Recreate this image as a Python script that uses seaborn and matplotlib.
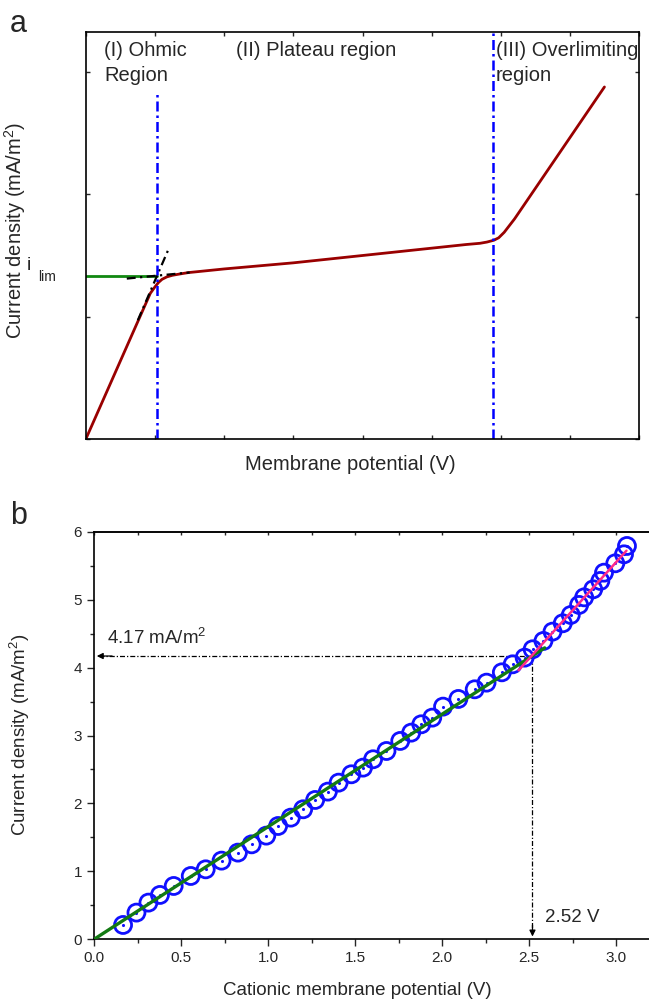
import numpy as np
import pandas as pd
import matplotlib
matplotlib.use('Agg')
import matplotlib.pyplot as plt
import seaborn as sns
from matplotlib.ticker import MultipleLocator, FormatStrFormatter

# ---- panel a : schematic I-V curve (arbitrary units) ----
pot_a = [0.0, 0.5, 0.93, 1.0, 1.05, 1.1, 1.17, 1.25, 1.35, 1.48, 2.0, 3.0, 4.0,
         5.0, 5.5, 5.7, 5.8, 5.9, 5.97, 6.05, 6.2, 7.5]
cur_a = [0.0, 0.64, 1.19, 1.245, 1.28, 1.305, 1.325, 1.338, 1.348, 1.36, 1.39, 1.44, 1.5,
         1.56, 1.59, 1.6, 1.61, 1.625, 1.645, 1.69, 1.8, 2.88]
i_lim = 1.331
v_ohmic = 1.03
v_over = 5.89
tan_ohm_x = [0.75, 1.2]
tan_ohm_y = [0.97, 1.56]
tan_plat_x = [0.59, 1.5]
tan_plat_y = [1.311, 1.361]

# ---- panel b : measured cationic membrane curve ----
pot_b = [0.167, 0.244, 0.313, 0.379, 0.458, 0.556, 0.642, 0.733, 0.827, 0.906, 0.990,
         1.058, 1.131, 1.202, 1.271, 1.344, 1.406, 1.479, 1.546, 1.604, 1.681, 1.760,
         1.823, 1.881, 1.944, 2.006, 2.094, 2.188, 2.256, 2.344, 2.406, 2.475, 2.521,
         2.583, 2.635, 2.694, 2.740, 2.788, 2.817, 2.869, 2.910, 2.931, 2.996, 3.046, 3.063]
cur_b = [0.211, 0.393, 0.540, 0.653, 0.785, 0.932, 1.030, 1.158, 1.276, 1.398, 1.526,
         1.668, 1.791, 1.914, 2.051, 2.174, 2.306, 2.429, 2.527, 2.650, 2.772, 2.920,
         3.042, 3.165, 3.263, 3.425, 3.538, 3.680, 3.778, 3.930, 4.048, 4.146, 4.269,
         4.392, 4.529, 4.652, 4.774, 4.922, 5.034, 5.152, 5.275, 5.397, 5.535, 5.667, 5.790]
fit_low_x = [0.0, 2.59]
fit_low_y = [0.0, 4.29]
fit_high_x = [2.44, 3.06]
fit_high_y = [3.96, 5.72]
v_cross = 2.52
i_cross = 4.17

sns.set_style('ticks')
plt.rcParams['font.family'] = ['Liberation Sans', 'DejaVu Sans']
plt.rcParams['mathtext.fontset'] = 'custom'
plt.rcParams['mathtext.rm'] = 'Liberation Sans'
plt.rcParams['mathtext.default'] = 'regular'

W, H = 649, 1005
fig = plt.figure(figsize=(W / 100, H / 100), dpi=100)


def box(l, t, r, b):
    return [l / W, 1 - b / H, (r - l) / W, (b - t) / H]


def fpos(x, y):
    return x / W, 1 - y / H


dashdot = (0, (4, 1.6, 1, 1.6))

# ================= panel a =================
ax1 = fig.add_axes(box(86, 32, 639, 438.7))
sns.lineplot(x=pot_a, y=cur_a, ax=ax1, color='#990000', lw=2, sort=False, estimator=None)
ax1.plot([0, v_ohmic], [i_lim, i_lim], color='#118811', lw=2)
ax1.plot(tan_ohm_x, tan_ohm_y, color='k', lw=1.6, ls=(0, (4, 2, 1, 2)))
ax1.plot(tan_plat_x, tan_plat_y, color='k', lw=1.6, ls=(0, (4, 2, 1, 2)))
ax1.plot([v_ohmic, v_ohmic], [0, 2.84], color='#0000ff', lw=1.8, ls=dashdot)
ax1.plot([v_over, v_over], [0, 3.33], color='#0000ff', lw=1.8, ls=dashdot)

ax1.set_xlim(0, 8)
ax1.set_ylim(0, 3.33)
ax1.xaxis.set_major_locator(MultipleLocator(1))
ax1.yaxis.set_major_locator(MultipleLocator(1))
ax1.tick_params(direction='in', length=3, width=1, top=True, right=True,
                labelbottom=False, labelleft=False)
for s in ax1.spines.values():
    s.set_linewidth(1.2)
    s.set_color('k')

tkw = dict(fontsize=14.5, va='top', linespacing=1.4)
ax1.text(0.26, 3.26, '(I) Ohmic\nRegion', **tkw)
ax1.text(2.17, 3.26, '(II) Plateau region', **tkw)
ax1.text(5.93, 3.26, '(III) Overlimiting\nregion', **tkw)

fig.text(*fpos(27, 270), 'i', fontsize=14, va='baseline')
fig.text(*fpos(38, 281), 'lim', fontsize=10, va='baseline')
fig.text(*fpos(15, 230), 'Current density (mA/m$^2$)', fontsize=14.5,
         rotation=90, ha='center', va='center')
fig.text(*fpos(350, 465), 'Membrane potential (V)', fontsize=14.5,
         ha='center', va='center')
fig.text(*fpos(10, 32), 'a', fontsize=22, va='baseline')

# ================= panel b =================
ax2 = fig.add_axes(box(94, 531.7, 659.5, 939.3))
df_b = pd.DataFrame({'pot': pot_b, 'cur': cur_b})
sns.scatterplot(data=df_b, x='pot', y='cur', ax=ax2, marker='o', s=150,
                facecolor='none', edgecolor='#1010ff', linewidth=2, zorder=3)
sns.scatterplot(data=df_b, x='pot', y='cur', ax=ax2, marker='o', s=5,
                color='#1010ff', linewidth=0, zorder=3)
ax2.plot(fit_low_x, fit_low_y, color='#137a13', lw=2.4, zorder=4)
ax2.plot(fit_high_x, fit_high_y, color='#ff2a8a', lw=1.8, zorder=4)

ax2.plot([0.03, v_cross], [i_cross, i_cross], color='k', lw=0.9, ls=dashdot)
ax2.plot([v_cross, v_cross], [i_cross, 0.12], color='k', lw=0.9, ls=dashdot)
ax2.annotate('', xy=(0.0, i_cross), xytext=(0.12, i_cross),
             arrowprops=dict(arrowstyle='-|>', color='k', lw=0.9, mutation_scale=9))
ax2.annotate('', xy=(v_cross, 0.0), xytext=(v_cross, 0.25),
             arrowprops=dict(arrowstyle='-|>', color='k', lw=0.9, mutation_scale=9))
ax2.text(0.073, 4.35, '4.17 mA/m$^2$', fontsize=13.5, va='baseline')
ax2.text(2.59, 0.25, '2.52 V', fontsize=13.5, va='baseline')

ax2.set_xlim(0, 3.25)
ax2.set_ylim(0, 6)
ax2.xaxis.set_major_locator(MultipleLocator(0.5))
ax2.xaxis.set_minor_locator(MultipleLocator(0.25))
ax2.yaxis.set_major_locator(MultipleLocator(1))
ax2.yaxis.set_minor_locator(MultipleLocator(0.5))
ax2.xaxis.set_major_formatter(FormatStrFormatter('%.1f'))
ax2.yaxis.set_major_formatter(FormatStrFormatter('%d'))
ax2.tick_params(which='major', direction='out', length=5, width=1, labelsize=11)
ax2.tick_params(which='minor', direction='out', length=3, width=1)
ax2.set_xlabel('')
ax2.set_ylabel('')
ax2.spines['right'].set_visible(False)
for s in ['left', 'bottom', 'top']:
    ax2.spines[s].set_linewidth(1.2)
    ax2.spines[s].set_color('k')
sec = ax2.secondary_xaxis('top')
sec.xaxis.set_major_locator(MultipleLocator(0.25))
sec.tick_params(direction='in', length=2, width=1, labeltop=False)
sec.spines['top'].set_linewidth(1.2)

fig.text(*fpos(20, 735), 'Current density (mA/m$^2$)', fontsize=13.5,
         rotation=90, ha='center', va='center')
fig.text(*fpos(357, 990), 'Cationic membrane potential (V)', fontsize=13.5,
         ha='center', va='center')
fig.text(*fpos(10, 524), 'b', fontsize=22, va='baseline')

fig.savefig('out.png', dpi=100)
